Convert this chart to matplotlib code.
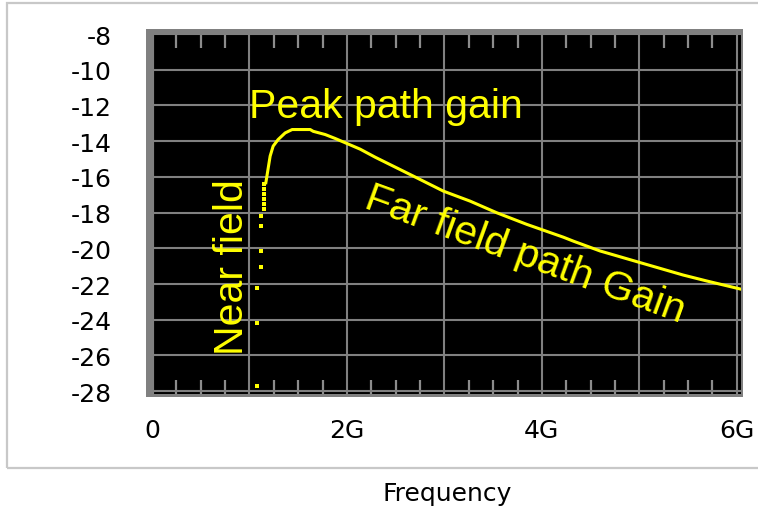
import numpy as np
import matplotlib
matplotlib.use('Agg')
import matplotlib.pyplot as plt
from matplotlib.patches import Rectangle

# Near field samples (sparse, steep rise) - frequency in GHz, gain in dB
near_freq = [1.076, 1.079, 1.079, 1.115, 1.115, 1.115, 1.118,
             1.144, 1.144, 1.144, 1.144, 1.144, 1.144]
near_gain = [-27.71, -24.19, -22.23, -21.06, -20.17, -18.77, -18.21,
             -17.82, -17.54, -17.26, -16.98, -16.70, -16.42]

# Main path gain curve
curve_freq = [1.168, 1.212, 1.243, 1.294, 1.366, 1.438, 1.623, 1.654, 1.777,
              1.879, 1.982, 2.136, 2.290, 2.682, 2.990, 3.264, 3.537, 3.845,
              4.221, 4.323, 4.597, 5.007, 5.451, 5.691, 6.043]
curve_gain = [-16.33, -14.84, -14.28, -13.91, -13.54, -13.35, -13.35, -13.45, -13.63,
              -13.85, -14.09, -14.45, -14.90, -15.96, -16.80, -17.36, -18.01, -18.66,
              -19.38, -19.60, -20.15, -20.80, -21.50, -21.83, -22.29]

x_major = [0, 1, 2, 3, 4, 5, 6]
x_labels = ['0', '', '2G', '', '4G', '', '6G']
y_major = [-28, -26, -24, -22, -20, -18, -16, -14, -12, -10, -8]

W, H = 758, 510
fig = plt.figure(figsize=(W / 100, H / 100), dpi=100)

def fx(px):
    return px / W

def fy(py):
    return 1 - py / H

# light outer frame
fig.patches.append(Rectangle((fx(7), fy(469)), 1.2, fy(4) - fy(469), transform=fig.transFigure,
                             fill=False, edgecolor='#c8c8c8', linewidth=1.6, zorder=0))
# gray bevel behind the plot area
fig.patches.append(Rectangle((fx(146), fy(398)), fx(743) - fx(146), fy(30) - fy(398),
                             transform=fig.transFigure, facecolor='#808080', edgecolor='none', zorder=1))

ax = fig.add_axes([fx(152), fy(395), fx(741) - fx(152), fy(35) - fy(395)], zorder=2)
ax.set_facecolor('black')
for s in ax.spines.values():
    s.set_visible(False)
ax.spines['left'].set_visible(True)
ax.spines['left'].set_color('#808080')
ax.spines['left'].set_linewidth(3)

ax.set_xlim(0, 6.043)
ax.set_ylim(-28.16, -8)

ax.set_xticks(x_major)
ax.set_xticklabels(x_labels)
ax.set_yticks(y_major)
ax.set_yticklabels([str(v) for v in y_major])
minor = [v for v in np.arange(0.25, 6.0, 0.25) if v % 1 != 0]
ax.set_xticks(minor, minor=True)

ax.grid(True, which='major', color='#808080', linewidth=1.5)
ax.set_axisbelow(True)
ax.tick_params(which='major', length=0, labelsize=18, labelcolor='black')
ax.tick_params(axis='x', which='major', pad=17)
ax.tick_params(axis='y', which='major', pad=29)
ax.tick_params(which='minor', direction='in', top=True, bottom=True, length=10, width=1.6,
               color='#8c8c8c')
for lab in ax.get_xticklabels() + ax.get_yticklabels():
    lab.set_family('DejaVu Sans')

ax.plot(curve_freq, curve_gain, color='#ffff00', linewidth=2.2, zorder=3)
ax.plot(near_freq, near_gain, linestyle='none', marker='s', markersize=2.2,
        color='#ffff00', markeredgewidth=0, zorder=3)

tfont = dict(family='Liberation Sans', fontsize=29.5, color='#ffff00')
ax.text(0.997, -12.63, 'Peak path gain', ha='left', va='baseline', zorder=4, **tfont)
ax.text(0.935, -25.92, 'Near field', rotation=90, rotation_mode='anchor',
        ha='left', va='baseline', zorder=4, **tfont)
ax.text(2.166, -17.65, 'Far field path Gain', rotation=-20, rotation_mode='anchor',
        ha='left', va='baseline', zorder=4, **tfont)

fig.text(fx(447), fy(494), 'Frequency', ha='center', va='center',
         family='DejaVu Sans', fontsize=18)

fig.savefig('out.png', dpi=100, facecolor='white')
